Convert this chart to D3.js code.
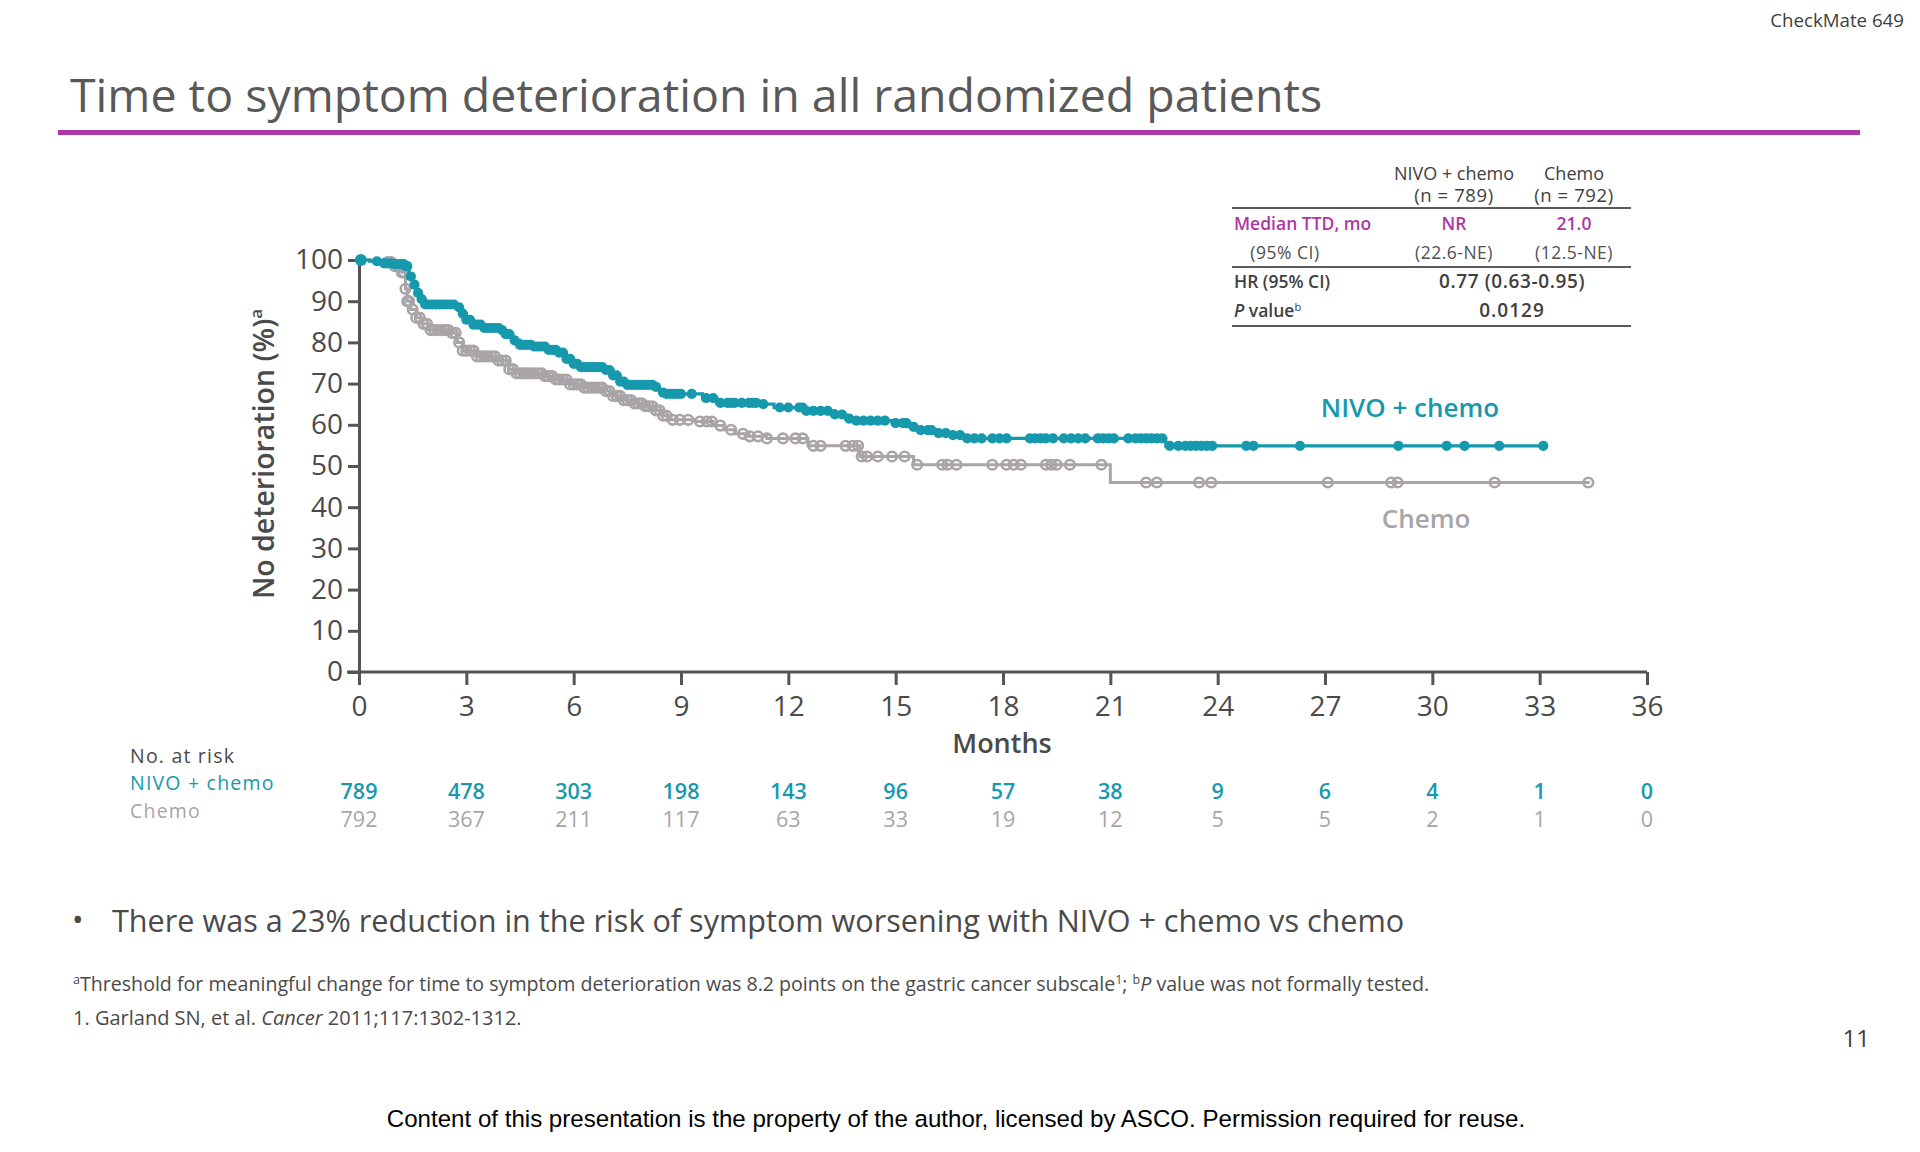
<!DOCTYPE html>
<html><head><meta charset="utf-8">
<script src="https://cdn.jsdelivr.net/npm/d3@7"></script>
<style>
html,body{margin:0;padding:0;background:#fff;}
svg{display:block;font-family:"Open Sans",sans-serif;}
</style></head>
<body>
<svg id="chart" width="1920" height="1152"></svg>
<script>
// ---------------- DATA ----------------
const xTicks = [0,3,6,9,12,15,18,21,24,27,30,33,36];
const yTicks = [0,10,20,30,40,50,60,70,80,90,100];

// Kaplan-Meier steps (time in months, % without deterioration)
const nivoTimes = [0,0.3,0.6,1.0,1.3,1.4,1.5,1.6,1.7,1.85,2.75,2.85,3.0,3.2,3.5,4.0,4.1,4.3,4.5,4.9,5.3,5.6,5.8,6.0,6.2,6.9,7.1,7.3,7.5,8.3,8.4,8.6,9.6,10.0,11.2,11.6,12.5,13.3,13.6,13.9,14.9,15.4,15.6,16.2,16.5,16.9,22.55];
const nivoSurv  = [100,99.7,99.2,99.0,98.5,96,94,92,90.5,89.2,88.5,87,85.5,84.3,83.5,83.0,82,80.5,79.4,79,78.2,77.5,76,74.8,74,73.3,72,70.5,69.7,69.2,67.8,67.5,66.5,65.3,65.0,64.2,63.4,62.5,61.5,61.0,60.4,59.5,58.7,58,57.5,56.7,54.9];
const nivoEnd = 33.1;

const chemoTimes = [0,0.6,1.0,1.2,1.3,1.35,1.45,1.6,1.75,1.95,2.6,2.75,2.9,3.3,3.9,4.2,4.35,5.2,5.5,5.9,6.3,6.9,7.1,7.4,7.7,8.0,8.3,8.5,8.7,9.4,9.9,10.2,10.5,10.9,11.4,12.55,14.0,15.5,21.0];
const chemoSurv  = [100,99.5,98.5,97,93,90,88,86,84.5,83.0,82.3,80,78,76.6,75.6,73.5,72.5,71.8,71,69.8,69,68.2,67,66,65.2,64.5,63.5,62.2,61.2,60.8,59.8,58.8,57.8,57.2,56.7,54.9,52.3,50.3,46.0];
const chemoEnd = 34.4;

// censored observations (months)
const nivoCensor = [0.05,0.5,0.7,0.8,0.9,1.0,1.1,1.2,1.25,1.3,1.35,1.45,1.55,1.65,1.75,1.85,1.95,2.05,2.15,2.25,2.35,2.45,2.55,2.65,2.8,2.9,3.0,3.1,3.2,3.3,3.4,3.5,3.6,3.7,3.8,3.9,4.0,4.1,4.2,4.35,4.5,4.6,4.7,4.8,4.9,5.0,5.1,5.2,5.3,5.4,5.5,5.6,5.7,5.8,5.9,6.0,6.1,6.2,6.3,6.4,6.5,6.6,6.7,6.8,6.9,7.0,7.1,7.2,7.3,7.4,7.5,7.6,7.7,7.8,7.9,8.0,8.1,8.2,8.3,8.5,8.6,8.7,8.8,8.9,9.0,9.3,9.7,9.9,10.1,10.3,10.4,10.5,10.7,10.9,11.0,11.1,11.3,11.76,12.0,12.3,12.4,12.5,12.7,12.9,13.1,13.3,13.5,13.7,13.9,14.1,14.3,14.5,14.7,15.0,15.2,15.3,15.5,15.7,15.9,16.0,16.2,16.4,16.6,16.8,17.0,17.2,17.4,17.7,17.9,18.1,18.75,18.9,19.05,19.2,19.4,19.7,19.9,20.1,20.3,20.65,20.8,20.95,21.1,21.5,21.7,21.85,22.0,22.15,22.3,22.45,22.66,22.9,23.1,23.25,23.4,23.55,23.7,23.85,24.8,25.0,26.3,29.05,30.4,30.9,31.87,33.1];
const chemoCensor = [0.8,0.9,1.0,1.1,1.2,1.25,1.3,1.35,1.4,1.5,1.6,1.7,1.8,1.9,2.0,2.1,2.2,2.3,2.4,2.5,2.6,2.7,2.8,2.9,3.0,3.1,3.2,3.3,3.4,3.5,3.6,3.7,3.8,3.9,4.0,4.1,4.2,4.3,4.4,4.5,4.6,4.7,4.8,4.9,5.0,5.1,5.2,5.3,5.4,5.5,5.6,5.7,5.8,5.9,6.0,6.1,6.2,6.3,6.4,6.5,6.6,6.7,6.8,6.9,7.0,7.1,7.2,7.3,7.4,7.5,7.6,7.7,7.8,7.9,8.0,8.1,8.2,8.3,8.4,8.5,8.6,8.77,8.97,9.2,9.53,9.72,9.86,10.1,10.4,10.73,10.92,11.15,11.4,11.85,12.2,12.4,12.7,12.9,13.6,13.8,13.95,14.05,14.2,14.5,14.9,15.25,15.6,16.3,16.45,16.7,17.7,18.1,18.3,18.5,19.2,19.35,19.5,19.87,20.75,22.0,22.3,23.48,23.82,27.08,28.85,29.03,31.74,34.36];

// numbers at risk
const riskNivo  = [789,478,303,198,143,96,57,38,9,6,4,1,0];
const riskChemo = [792,367,211,117,63,33,19,12,5,5,2,1,0];

// summary table
const tableCols = ["NIVO + chemo","Chemo"];
const tableN = ["(n = 789)","(n = 792)"];
const medianTTD = ["NR","21.0"];
const medianCI = ["(22.6-NE)","(12.5-NE)"];
const hrText = "0.77 (0.63-0.95)";
const pText = "0.0129";

// ---------------- STYLE ----------------
const TEAL = "#1799ad", GREY = "#a9a4a7", PURPLE = "#ac38a4", AXIS = "#555555";

const svg = d3.select("#chart");
svg.append("rect").attr("width",1920).attr("height",1152).attr("fill","#fff");

// header
svg.append("text").attr("x",1904).attr("y",27).attr("text-anchor","end")
  .attr("font-size",18.7).attr("fill","#404040").text("CheckMate 649");
svg.append("text").attr("x",70).attr("y",112).attr("font-size",46.5).attr("fill","#595959")
  .text("Time to symptom deterioration in all randomized patients");
svg.append("rect").attr("x",58).attr("y",130).attr("width",1802).attr("height",5).attr("fill","#b035a8");

// scales
const x = d3.scaleLinear().domain([0,36]).range([359,1647]);
const y = d3.scaleLinear().domain([0,100]).range([672,260]);

// axes
const gx = svg.append("g").attr("transform","translate(0,672)")
  .call(d3.axisBottom(x).tickValues(xTicks).tickSize(13).tickPadding(11).tickSizeOuter(0));
const gy = svg.append("g").attr("transform","translate(359,0)")
  .call(d3.axisLeft(y).tickValues(yTicks).tickSize(11).tickPadding(5).tickSizeOuter(0));
[gx,gy].forEach(g=>{
  g.select(".domain").attr("stroke",AXIS).attr("stroke-width",3);
  g.selectAll(".tick line").attr("stroke",AXIS).attr("stroke-width",3);
  g.selectAll(".tick text").attr("fill","#4a4a4a").attr("font-size",28).attr("font-family","Open Sans");
});
gx.select(".domain").attr("d","M"+(359-12)+",0H1647");

// axis titles
const yt = svg.append("text").attr("transform","translate(274,454) rotate(-90)")
  .attr("text-anchor","middle").attr("font-size",28.5).attr("font-weight",600).attr("fill","#4a4a4a");
yt.append("tspan").text("No deterioration (%)");
yt.append("tspan").attr("font-size",17).attr("dy",-12).text("a");
svg.append("text").attr("x",1002).attr("y",753).attr("text-anchor","middle")
  .attr("font-size",27).attr("font-weight",600).attr("fill","#4a4a4a").text("Months");

// KM helpers
function stepData(times, surv, end){
  const pts = times.map((t,i)=>[t,surv[i]]);
  pts.push([end, surv[surv.length-1]]);
  return pts;
}
function survAt(times, surv, t){
  const i = d3.bisectRight(times, t) - 1;
  return surv[Math.max(0,i)];
}
const line = d3.line().x(d=>x(d[0])).y(d=>y(d[1])).curve(d3.curveStepAfter);

// chemo curve
svg.append("path").datum(stepData(chemoTimes,chemoSurv,chemoEnd))
  .attr("d",line).attr("fill","none").attr("stroke",GREY).attr("stroke-width",3);
svg.append("g").selectAll("circle").data(chemoCensor).join("circle")
  .attr("cx",d=>x(d)).attr("cy",d=>y(survAt(chemoTimes,chemoSurv,d)))
  .attr("r",4.8).attr("fill","none").attr("stroke",GREY).attr("stroke-width",2.6);

// nivo curve
svg.append("path").datum(stepData(nivoTimes,nivoSurv,nivoEnd))
  .attr("d",line).attr("fill","none").attr("stroke",TEAL).attr("stroke-width",3.2);
svg.append("g").selectAll("circle").data(nivoCensor).join("circle")
  .attr("cx",d=>x(d)).attr("cy",d=>y(survAt(nivoTimes,nivoSurv,d)))
  .attr("r",d=>d<0.1?6:5.1).attr("fill",TEAL);

// curve labels
svg.append("text").attr("x",1410).attr("y",417).attr("text-anchor","middle")
  .attr("font-size",26).attr("font-weight",600).attr("fill",TEAL).text("NIVO + chemo");
svg.append("text").attr("x",1426).attr("y",528).attr("text-anchor","middle")
  .attr("font-size",26).attr("font-weight",600).attr("fill",GREY).text("Chemo");

// summary table
const T = svg.append("g").attr("font-size",17.5);
const colX = [1454,1574];
tableCols.forEach((c,i)=>{
  T.append("text").attr("x",colX[i]).attr("y",180).attr("text-anchor","middle").attr("fill","#404040").attr("font-size",18).text(c);
  T.append("text").attr("x",colX[i]).attr("y",202).attr("text-anchor","middle").attr("fill","#404040").attr("font-size",18.5).attr("letter-spacing",0.6).text(tableN[i]);
  T.append("text").attr("x",colX[i]).attr("y",230).attr("text-anchor","middle").attr("fill",PURPLE).attr("font-weight",600).text(medianTTD[i]);
  T.append("text").attr("x",colX[i]).attr("y",259).attr("text-anchor","middle").attr("fill","#505050").attr("letter-spacing",0.5).text(medianCI[i]);
});
T.append("text").attr("x",1234).attr("y",230).attr("fill",PURPLE).attr("font-weight",600).text("Median TTD, mo");
T.append("text").attr("x",1285).attr("y",259).attr("text-anchor","middle").attr("fill","#505050").attr("letter-spacing",0.5).text("(95% CI)");
T.append("text").attr("x",1234).attr("y",288).attr("fill","#404040").attr("font-weight",600).text("HR (95% CI)");
T.append("text").attr("x",1512).attr("y",288).attr("text-anchor","middle").attr("fill","#404040").attr("font-weight",600).attr("font-size",19).attr("letter-spacing",0.6).text(hrText);
const pv = T.append("text").attr("x",1234).attr("y",317).attr("fill","#404040").attr("font-weight",600);
pv.append("tspan").attr("font-style","italic").text("P");
pv.append("tspan").text(" value");
pv.append("tspan").attr("font-size",11).attr("dy",-6).attr("font-weight",400).text("b");
T.append("text").attr("x",1512).attr("y",317).attr("text-anchor","middle").attr("fill","#404040").attr("font-weight",600).attr("font-size",19).attr("letter-spacing",1).text(pText);
[208,267,326].forEach(yy=>{
  T.append("line").attr("x1",1232).attr("x2",1631).attr("y1",yy).attr("y2",yy).attr("stroke","#5a5a5a").attr("stroke-width",2);
});

// risk table
svg.append("text").attr("x",130).attr("y",763).attr("font-size",19.5).attr("letter-spacing",1.2).attr("fill","#4a4a4a").text("No. at risk");
svg.append("text").attr("x",130).attr("y",790).attr("font-size",19.5).attr("letter-spacing",1.2).attr("fill",TEAL).text("NIVO + chemo");
svg.append("text").attr("x",130).attr("y",818).attr("font-size",19.5).attr("letter-spacing",1.2).attr("fill",GREY).text("Chemo");
svg.append("g").selectAll("text").data(riskNivo).join("text")
  .attr("x",(d,i)=>x(xTicks[i])).attr("y",799).attr("text-anchor","middle")
  .attr("font-size",21.5).attr("font-weight",600).attr("fill",TEAL).text(d=>d);
svg.append("g").selectAll("text").data(riskChemo).join("text")
  .attr("x",(d,i)=>x(xTicks[i])).attr("y",827).attr("text-anchor","middle")
  .attr("font-size",21.5).attr("fill",GREY).text(d=>d);

// bullet
svg.append("text").attr("x",72).attr("y",931).attr("font-size",30.6).attr("fill","#4a4a4a").text("•");
svg.append("text").attr("x",112).attr("y",932).attr("font-size",30.6).attr("fill","#4a4a4a")
  .text("There was a 23% reduction in the risk of symptom worsening with NIVO + chemo vs chemo");

// footnotes
const f1 = svg.append("text").attr("x",73).attr("y",991).attr("font-size",19.6).attr("fill","#4a4a4a");
f1.append("tspan").attr("font-size",12.5).attr("dy",-7).text("a");
f1.append("tspan").attr("dy",7).text("Threshold for meaningful change for time to symptom deterioration was 8.2 points on the gastric cancer subscale");
f1.append("tspan").attr("font-size",12.5).attr("dy",-7).text("1");
f1.append("tspan").attr("dy",7).text("; ");
f1.append("tspan").attr("font-size",12.5).attr("dy",-7).text("b");
f1.append("tspan").attr("dy",7).attr("font-style","italic").text("P");
f1.append("tspan").text(" value was not formally tested.");
const f2 = svg.append("text").attr("x",73).attr("y",1025).attr("font-size",20).attr("fill","#4a4a4a");
f2.append("tspan").text("1. Garland SN, et al. ");
f2.append("tspan").attr("font-style","italic").text("Cancer");
f2.append("tspan").text(" 2011;117:1302-1312.");

// page number
svg.append("text").attr("x",1870).attr("y",1047).attr("text-anchor","end").attr("font-size",24).attr("fill","#404040").text("11");

// copyright
svg.append("text").attr("x",956).attr("y",1127).attr("text-anchor","middle")
  .attr("font-family","Liberation Sans, Arial, sans-serif").attr("font-size",24.1).attr("fill","#000")
  .text("Content of this presentation is the property of the author, licensed by ASCO. Permission required for reuse.");
</script>
</body></html>
